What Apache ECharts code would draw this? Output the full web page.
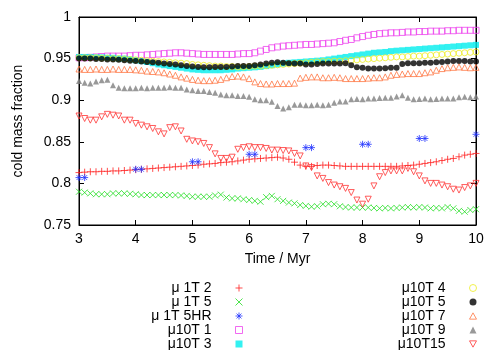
<!DOCTYPE html>
<html>
<head>
<meta charset="utf-8">
<script src="https://cdn.jsdelivr.net/npm/echarts@6/dist/echarts.min.js"></script>
<style>
  html, body { margin: 0; padding: 0; background: #fff; }
  #chart { width: 500px; height: 350px; }
</style>
</head>
<body>
<div id="chart"></div>
<script>
// time axis (Myr), one sample every 0.1 Myr
const times = [3.0,3.1,3.2,3.3,3.4,3.5,3.6,3.7,3.8,3.9,
  4.0,4.1,4.2,4.3,4.4,4.5,4.6,4.7,4.8,4.9,
  5.0,5.1,5.2,5.3,5.4,5.5,5.6,5.7,5.8,5.9,
  6.0,6.1,6.2,6.3,6.4,6.5,6.6,6.7,6.8,6.9,
  7.0,7.1,7.2,7.3,7.4,7.5,7.6,7.7,7.8,7.9,
  8.0,8.1,8.2,8.3,8.4,8.5,8.6,8.7,8.8,8.9,
  9.0,9.1,9.2,9.3,9.4,9.5,9.6,9.7,9.8,9.9,10.0];
const timesHR = [3.0,3.1,4.0,4.1,5.0,5.1,6.0,6.1,7.0,7.1,8.0,8.1,9.0,9.1,10.0];

const mu1T2 = [.813,.8135,.814,.814,.8145,.8145,.815,.815,.8155,.816,
  .8165,.817,.8175,.818,.8185,.819,.8195,.820,.8205,.821,
  .8215,.822,.823,.8235,.824,.825,.8255,.826,.827,.828,
  .829,.8295,.830,.8305,.831,.8315,.8305,.829,.8255,.822,
  .8205,.8205,.8215,.822,.822,.8215,.821,.8205,.8205,.8205,
  .8205,.8205,.8205,.8205,.8205,.8205,.8205,.821,.8215,.822,
  .823,.824,.825,.826,.8275,.829,.830,.832,.834,.835,.836];
const mu1T5 = [.790,.789,.788,.787,.787,.787,.788,.788,.788,.7875,
  .787,.786,.786,.786,.786,.786,.786,.786,.7855,.785,
  .784,.784,.784,.784,.7855,.7865,.783,.782,.782,.781,
  .780,.779,.778,.7835,.785,.781,.779,.777,.776,.774,
  .773,.772,.7725,.775,.7755,.775,.7725,.7715,.771,.771,
  .771,.771,.7705,.770,.7705,.770,.7705,.771,.7715,.771,
  .7715,.771,.770,.7705,.770,.7715,.770,.767,.766,.768,.769];
const mu1T5HR = [.807,.807,.817,.817,.826,.826,.835,.835,.843,.843,.847,.847,.854,.854,.859];
const mu10T1 = [.951,.951,.9515,.952,.9525,.953,.953,.953,.953,.9535,
  .954,.954,.9545,.955,.9555,.956,.9565,.957,.957,.9565,
  .956,.9555,.955,.955,.955,.955,.955,.955,.9555,.956,
  .956,.957,.959,.961,.963,.964,.965,.9655,.966,.9665,
  .967,.967,.9675,.968,.9685,.969,.9705,.972,.973,.975,
  .9765,.978,.979,.980,.9805,.981,.981,.9815,.982,.982,
  .9825,.9825,.983,.983,.983,.9835,.9835,.984,.984,.984,.984];
const mu10T3 = [.952,.952,.952,.9515,.9515,.951,.951,.950,.950,.949,
  .948,.947,.946,.9445,.943,.942,.941,.940,.939,.938,
  .937,.9365,.936,.936,.936,.936,.9365,.937,.938,.9385,
  .939,.9395,.940,.941,.942,.943,.944,.945,.9455,.946,
  .9465,.947,.9475,.948,.949,.950,.951,.952,.953,.954,
  .955,.956,.957,.9575,.958,.959,.9595,.960,.9605,.961,
  .9615,.962,.9625,.963,.9635,.964,.9645,.965,.9655,.966,.9665];
const mu10T4 = [.951,.951,.951,.951,.9505,.9505,.950,.950,.9495,.949,
  .9485,.948,.9475,.947,.9465,.946,.9455,.945,.9445,.944,
  .943,.9425,.942,.9415,.941,.941,.9405,.9405,.940,.940,
  .9405,.941,.941,.9415,.942,.9425,.943,.9435,.944,.9445,
  .945,.9455,.946,.9465,.9465,.947,.947,.9475,.948,.9485,
  .949,.9495,.950,.9505,.951,.9515,.952,.952,.9525,.953,
  .953,.9535,.954,.9545,.955,.9555,.956,.9565,.957,.9575,.958];
const mu10T5 = [.950,.950,.950,.9495,.9495,.949,.949,.9485,.948,.9475,
  .947,.9465,.946,.9455,.945,.944,.9435,.943,.942,.941,
  .9405,.940,.9395,.9395,.940,.940,.940,.9405,.941,.941,
  .941,.942,.943,.944,.945,.9455,.945,.9445,.944,.944,
  .943,.943,.9435,.944,.944,.944,.944,.9445,.942,.9395,
  .939,.938,.938,.938,.9385,.939,.939,.9435,.9445,.9445,
  .9445,.945,.945,.9455,.946,.9465,.947,.947,.947,.9465,.9465];
const mu10T7 = [.9375,.937,.937,.9375,.937,.937,.9375,.937,.937,.937,
  .9365,.936,.935,.9345,.934,.933,.9315,.930,.928,.9265,
  .925,.924,.9235,.9235,.924,.925,.927,.9285,.929,.928,
  .926,.922,.920,.9195,.9195,.920,.920,.920,.9205,.9265,
  .9275,.928,.928,.927,.927,.9275,.927,.926,.926,.926,
  .926,.9265,.927,.927,.928,.930,.931,.9315,.932,.932,
  .932,.933,.934,.936,.938,.939,.9395,.940,.9395,.939,.9395];
const mu10T9 = [.923,.921,.920,.9225,.924,.9245,.918,.915,.9145,.9145,
  .9145,.915,.9145,.915,.915,.915,.9155,.915,.915,.913,
  .912,.911,.911,.910,.909,.907,.906,.906,.905,.905,
  .904,.901,.900,.900,.898,.893,.890,.8915,.8945,.8945,
  .894,.894,.8945,.894,.8945,.897,.8985,.8985,.901,.9015,
  .901,.902,.902,.9025,.903,.903,.9045,.906,.903,.901,
  .9015,.902,.901,.9015,.902,.902,.902,.9035,.904,.9035,.9045];
const mu10T15 = [.881,.878,.876,.876,.880,.883,.882,.881,.876,.876,
  .872,.870,.868,.866,.862,.8595,.867,.868,.863,.853,
  .851,.850,.848,.843,.8355,.830,.830,.8315,.841,.843,
  .844,.843,.843,.842,.840,.840,.8395,.839,.836,.833,
  .821,.819,.809,.806,.801,.798,.796,.794,.789,.780,
  .775,.781,.797,.808,.813,.815,.815,.815,.818,.814,
  .809,.803,.800,.800,.798,.796,.793,.792,.795,.797,.800];

const names1 = ['\u03bc 1T 2', '\u03bc 1T 5', '\u03bc 1T 5HR', '\u03bc10T 1', '\u03bc10T 3'];
const names2 = ['\u03bc10T 4', '\u03bc10T 5', '\u03bc10T 7', '\u03bc10T 9', '\u03bc10T15'];

// gnuplot-like point shapes
const PLUS = 'path://M0,5L10,5M5,0L5,10';
const CROSS = 'path://M0,0L10,10M10,0L0,10';
const STAR = 'path://M0,5L10,5M5,0L5,10M1.5,1.5L8.5,8.5M8.5,1.5L1.5,8.5';
const BOX = 'path://M0,0L10,0L10,10L0,10Z';
const RING = 'path://M0,5A5,5,0,1,1,10,5A5,5,0,1,1,0,5Z';
const TRI = 'path://M5,0L10,9L0,9Z';
const DTRI = 'path://M0,0L10,0L5,9Z';

function pts(xs, ys) {
  return xs.map((x, i) => [x, ys[i]]);
}

function mk(name, xs, ys, symbol, size, color, filled) {
  return {
    name: name,
    type: 'scatter',
    data: pts(xs, ys),
    symbol: symbol,
    symbolSize: size,
    itemStyle: filled
      ? { color: color, borderWidth: 0 }
      : { color: 'transparent', borderColor: color, borderWidth: 1 },
    emphasis: { disabled: true }
  };
}

const font = 'Liberation Sans, Arial, sans-serif';

function legendCol(names, right) {
  return {
    orient: 'vertical', align: 'right', right: right, top: 281, height: 90, padding: 0,
    itemGap: 0, itemWidth: 7, itemHeight: 7, selectedMode: false,
    itemStyle: { borderWidth: 1 },
    textStyle: { color: '#000', fontSize: 14, lineHeight: 13.7, padding: [0, 19, 0, 0], fontFamily: font },
    data: names
  };
}

const chart = echarts.init(document.getElementById('chart'));
chart.setOption({
  animation: false,
  textStyle: { fontFamily: font },
  grid: { left: 79, right: 24, top: 17, bottom: 125, show: true, borderColor: '#000', borderWidth: 1 },
  xAxis: [{
    type: 'value', min: 3, max: 10, interval: 1,
    name: 'Time / Myr', nameLocation: 'middle', nameGap: 27,
    nameTextStyle: { color: '#000', fontSize: 14, fontFamily: font },
    axisLine: { lineStyle: { color: '#000' } },
    axisTick: { inside: true, length: 5, lineStyle: { color: '#000' } },
    axisLabel: { color: '#000', fontSize: 14, margin: 7, fontFamily: font },
    splitLine: { show: false }
  }, {
    type: 'value', min: 3, max: 10, interval: 1, position: 'top',
    axisLine: { lineStyle: { color: '#000' } },
    axisTick: { inside: true, length: 5, lineStyle: { color: '#000' } },
    axisLabel: { show: false },
    splitLine: { show: false }
  }],
  yAxis: [{
    type: 'value', min: 0.75, max: 1, interval: 0.05,
    name: 'cold mass fraction', nameLocation: 'middle', nameGap: 54,
    nameTextStyle: { color: '#000', fontSize: 14, fontFamily: font },
    axisLine: { show: true, lineStyle: { color: '#000' } },
    axisTick: { show: true, inside: true, length: 5, lineStyle: { color: '#000' } },
    axisLabel: { color: '#000', fontSize: 14, margin: 8, fontFamily: font },
    splitLine: { show: false }
  }, {
    type: 'value', min: 0.75, max: 1, interval: 0.05, position: 'right',
    axisLine: { show: true, lineStyle: { color: '#000' } },
    axisTick: { show: true, inside: true, length: 5, lineStyle: { color: '#000' } },
    axisLabel: { show: false },
    splitLine: { show: false }
  }],
  legend: [legendCol(names1, 257), legendCol(names2, 23)],
  series: [
    mk(names1[0], times, mu1T2, PLUS, 7, '#ff2020', false),
    mk(names1[1], times, mu1T5, CROSS, 6, '#22dd22', false),
    mk(names1[2], timesHR, mu1T5HR, STAR, 7, '#2233ff', false),
    mk(names1[3], times, mu10T1, BOX, 6, '#ee44ee', false),
    mk(names1[4], times, mu10T3, 'rect', 6, '#00eeee', true),
    mk(names2[0], times, mu10T4, RING, 6, '#eeee22', false),
    mk(names2[1], times, mu10T5, 'circle', 6, '#000000', true),
    mk(names2[2], times, mu10T7, TRI, 6, '#ff7744', false),
    mk(names2[3], times, mu10T9, 'triangle', 6, '#808080', true),
    mk(names2[4], times, mu10T15, DTRI, 6, '#ff3333', false)
  ]
});
window.addEventListener('resize', function () {
  chart.resize();
});
</script>
</body>
</html>
